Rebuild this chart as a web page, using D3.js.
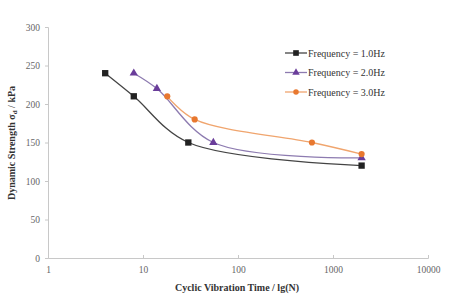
<!DOCTYPE html>
<html>
<head>
<meta charset="utf-8">
<script src="https://cdn.jsdelivr.net/npm/d3@7"></script>
<style>
body { margin: 0; background: #fff; }
text { font-family: "Liberation Serif", "DejaVu Serif", serif; }
</style>
</head>
<body>
<div id="chart"></div>
<script>
const seriesNames = ['Frequency = 1.0Hz', 'Frequency = 2.0Hz', 'Frequency = 3.0Hz'];
const cycles1 = [4, 8, 30, 2000];
const strength1 = [240, 210, 150, 120];
const cycles2 = [8, 14, 55, 2000];
const strength2 = [240, 220, 150, 130];
const cycles3 = [18, 35, 600, 2000];
const strength3 = [210, 180, 150, 135];
const xTicks = [1, 10, 100, 1000, 10000];
const yTicks = [0, 50, 100, 150, 200, 250, 300];

const width = 457;
const height = 300;
const leftMargin = 48;
const rightMargin = 29;
const topMargin = 27;
const bottomMargin = 42;

const svg = d3.select('#chart').append('svg').attr('width', width).attr('height', height);

const x = d3.scaleLog().domain([1, 10000]).range([leftMargin, width - rightMargin]);
const y = d3.scaleLinear().domain([0, 300]).range([height - bottomMargin, topMargin]);

// axes
function xAxis(g) {
    g.attr('transform', `translate(0, ${height - bottomMargin})`)
        .call(d3.axisBottom(x).tickValues(xTicks).tickFormat(d3.format('d')).tickSize(-3).tickPadding(8));
    g.selectAll('path, line').attr('stroke', '#c8c8c8');
    g.selectAll('text').attr('fill', '#666').attr('font-size', '9.5px').attr('font-family', 'Liberation Serif');
}
function yAxis(g) {
    g.attr('transform', `translate(${leftMargin}, 0)`)
        .call(d3.axisLeft(y).tickValues(yTicks).tickSize(3).tickPadding(5));
    g.selectAll('path, line').attr('stroke', '#c8c8c8');
    g.selectAll('text').attr('fill', '#666').attr('font-size', '9.5px').attr('font-family', 'Liberation Serif');
}
svg.append('g').call(xAxis);
svg.append('g').call(yAxis);

// series
const series = [
    {name: seriesNames[0], xs: cycles1, ys: strength1, color: '#222222', line: '#444444', shape: d3.symbolSquare, size: 40},
    {name: seriesNames[1], xs: cycles2, ys: strength2, color: '#6a3d9a', line: '#8d7bb0', shape: d3.symbolTriangle, size: 30},
    {name: seriesNames[2], xs: cycles3, ys: strength3, color: '#e8782f', line: '#f0a56e', shape: d3.symbolCircle, size: 30}
];

const line = d3.line().x(d => x(d[0])).y(d => y(d[1])).curve(d3.curveCatmullRom.alpha(0.5));

series.forEach(s => {
    const pts = s.xs.map((v, i) => [v, s.ys[i]]);
    svg.append('path').datum(pts).attr('d', line).attr('fill', 'none')
        .attr('stroke', s.line).attr('stroke-width', 1.3);
    svg.append('g').selectAll('path').data(pts).join('path')
        .attr('transform', d => `translate(${x(d[0])}, ${y(d[1])})`)
        .attr('d', d3.symbol().type(s.shape).size(s.size))
        .attr('fill', s.color);
});

// legend
const legend = svg.append('g');
series.forEach((s, i) => {
    const ly = 53 + i * 19.5;
    legend.append('line').attr('x1', 285).attr('x2', 307).attr('y1', ly).attr('y2', ly)
        .attr('stroke', s.line).attr('stroke-width', 1.3);
    legend.append('path').attr('transform', `translate(296, ${ly})`)
        .attr('d', d3.symbol().type(s.shape).size(s.size * 0.8)).attr('fill', s.color);
    legend.append('text').attr('x', 308).attr('y', ly + 3.5).attr('font-size', '10px')
        .attr('fill', '#333').text(s.name);
});

// axis titles
svg.append('text').attr('x', 237).attr('y', 291).attr('text-anchor', 'middle')
    .attr('font-size', '10px').attr('font-weight', 'bold').attr('fill', '#333')
    .text('Cyclic Vibration Time / lg(N)');

const yt = svg.append('text').attr('transform', `translate(15, 143) rotate(-90)`)
    .attr('text-anchor', 'middle').attr('font-size', '10px').attr('font-weight', 'bold').attr('fill', '#333');
yt.append('tspan').text('Dynamic Strength σ');
yt.append('tspan').attr('font-size', '7px').attr('dy', 2).text('d');
yt.append('tspan').attr('dy', -2).text(' / kPa');
</script>
</body>
</html>
